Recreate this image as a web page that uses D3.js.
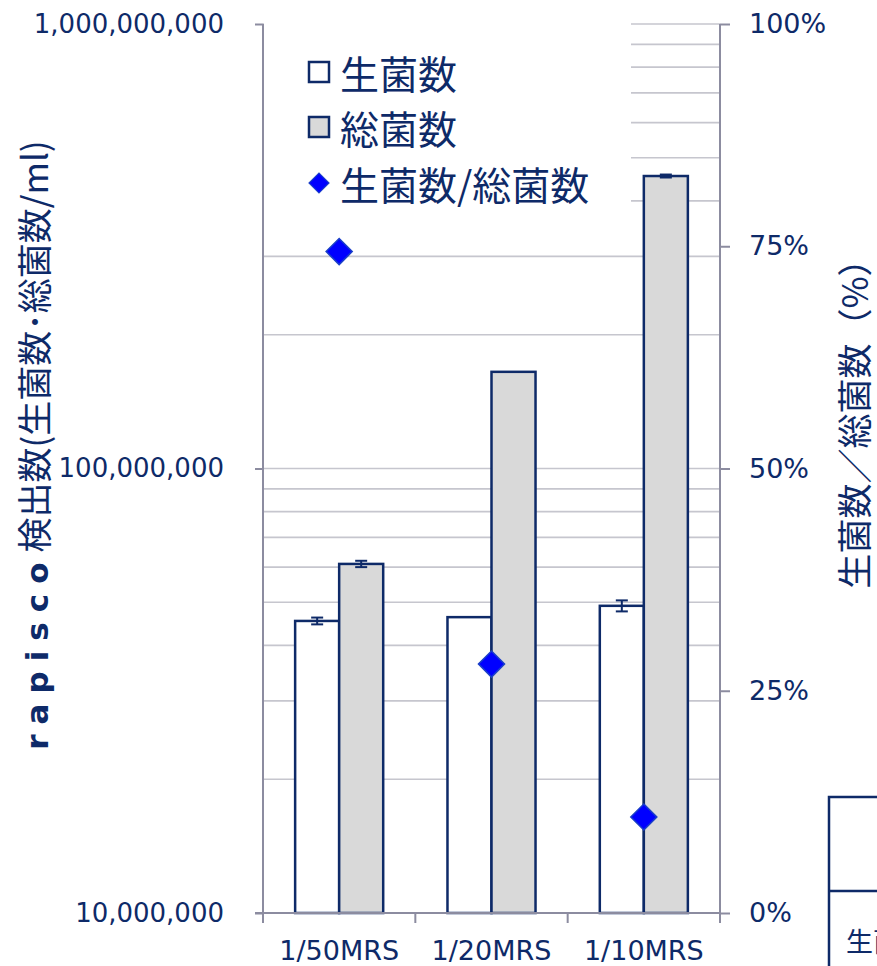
<!DOCTYPE html>
<html>
<head>
<meta charset="utf-8">
<script src="https://cdn.jsdelivr.net/npm/d3@7/dist/d3.min.js"></script>
<style>
	body { margin: 0; background: #fff; overflow: hidden; }
	svg { display: block; }
</style>
</head>
<body>
<div id="chart"></div>
<script>
// values
const categories = ["1/50MRS", "1/20MRS", "1/10MRS"];
const viableCounts = [4.54e7, 4.63e7, 4.91e7];   // 生菌数
const viableErr = [0.08e7, 0, 0.14e7];
const totalCounts = [6.1e7, 1.65e8, 4.55e8];     // 総菌数
const totalErr = [0.1e7, 0, 0.035e8];
const ratioPct = [74.4, 28.0, 10.8];             // 生菌数/総菌数 (%)
const leftTickValues = [1e7, 1e8, 1e9];
const rightTickValues = [0, 25, 50, 75, 100];
const seriesNames = ["生菌数", "総菌数", "生菌数/総菌数"];

const W = 877, H = 966;
const navy = "#0e2a68";
const axisGrey = "#8c8ca0";
const gridGrey = "#c6c6ce";
const latin = "'DejaVu Sans', 'Noto Sans CJK JP', sans-serif";
const cjk = "'Noto Sans CJK JP', 'DejaVu Sans', sans-serif";

const plot = {left: 263, right: 720, top: 24, bottom: 913};

let svg = d3.select("#chart").append("svg")
	.attr("width", W)
	.attr("height", H);

let x = d3.scaleBand()
	.domain(categories)
	.range([plot.left, plot.right]);

let xInner = d3.scaleBand()
	.domain(["viable", "total"])
	.range([0, x.bandwidth()])
	.paddingOuter(0.73);

let yLog = d3.scaleLog()
	.domain([1e7, 1e9])
	.range([plot.bottom, plot.top]);

let yPct = d3.scaleLinear()
	.domain([0, 100])
	.range([plot.bottom, plot.top]);

// gridlines at every log tick
svg.append("g")
	.selectAll("line")
	.data(yLog.ticks().filter(d => d > 1e7))
	.join("line")
	.attr("x1", plot.left)
	.attr("x2", plot.right)
	.attr("y1", d => yLog(d))
	.attr("y2", d => yLog(d))
	.attr("stroke", gridGrey)
	.attr("stroke-width", 1.6);

// legend background hides the grid behind it
svg.append("rect")
	.attr("x", plot.left + 1)
	.attr("y", plot.top - 2)
	.attr("width", 630 - plot.left)
	.attr("height", 196)
	.attr("fill", "#fff");

// bars
let bars = [
	{key: "viable", values: viableCounts, err: viableErr, fill: "#ffffff"},
	{key: "total", values: totalCounts, err: totalErr, fill: "#d9d9d9"}
];

bars.forEach(s => {
	let g = svg.append("g");
	g.selectAll("rect")
		.data(s.values)
		.join("rect")
		.attr("x", (d, i) => x(categories[i]) + xInner(s.key))
		.attr("y", d => yLog(d))
		.attr("width", xInner.bandwidth())
		.attr("height", d => plot.bottom - yLog(d))
		.attr("fill", s.fill)
		.attr("stroke", navy)
		.attr("stroke-width", 2.5);

	// error bars
	let eg = g.append("g").attr("stroke", navy).attr("stroke-width", 2);
	s.values.forEach((v, i) => {
		if (!s.err[i]) return;
		let cx = x(categories[i]) + xInner(s.key) + xInner.bandwidth() / 2;
		let y0 = yLog(v + s.err[i]), y1 = yLog(v - s.err[i]);
		eg.append("line").attr("x1", cx).attr("x2", cx).attr("y1", y0).attr("y2", y1);
		eg.append("line").attr("x1", cx - 6).attr("x2", cx + 6).attr("y1", y0).attr("y2", y0);
		eg.append("line").attr("x1", cx - 6).attr("x2", cx + 6).attr("y1", y1).attr("y2", y1);
	});
});

// ratio diamonds
let diamond = d3.symbol().type(d3.symbolSquare).size(340);
svg.append("g")
	.selectAll("path")
	.data(ratioPct)
	.join("path")
	.attr("d", diamond)
	.attr("transform", (d, i) => `translate(${x(categories[i]) + x.bandwidth() / 2},${yPct(d)}) rotate(45)`)
	.attr("fill", "#0000ff")
	.attr("stroke", "#1a3fc8")
	.attr("stroke-width", 1.5);

// left axis
let leftAxis = d3.axisLeft(yLog)
	.tickValues(leftTickValues)
	.tickFormat(d3.format(","))
	.tickSize(8)
	.tickPadding(31);
let gl = svg.append("g")
	.attr("transform", `translate(${plot.left},0)`)
	.call(leftAxis);

// right axis
let rightAxis = d3.axisRight(yPct)
	.tickValues(rightTickValues)
	.tickFormat(d => d + "%")
	.tickSize(10)
	.tickPadding(19);
let gr = svg.append("g")
	.attr("transform", `translate(${plot.right},0)`)
	.call(rightAxis);

// bottom axis
let bottomAxis = d3.axisBottom(x)
	.tickSize(0)
	.tickPadding(28);
let gb = svg.append("g")
	.attr("transform", `translate(0,${plot.bottom})`)
	.call(bottomAxis);

// category separators
svg.append("g")
	.selectAll("line")
	.data(categories.concat(["end"]))
	.join("line")
	.attr("x1", (d, i) => i < categories.length ? x(d) : plot.right)
	.attr("x2", (d, i) => i < categories.length ? x(d) : plot.right)
	.attr("y1", plot.bottom)
	.attr("y2", plot.bottom + 10)
	.attr("stroke", axisGrey)
	.attr("stroke-width", 2);

[gl, gr, gb].forEach(g => {
	g.select(".domain").attr("stroke", axisGrey).attr("stroke-width", 2);
	g.selectAll(".tick line").attr("stroke", axisGrey).attr("stroke-width", 2);
	g.selectAll(".tick text")
		.attr("fill", navy)
		.style("font-family", latin)
		.style("font-size", "27px");
});
gl.selectAll(".tick text").style("font-size", "26px");
gl.select(".domain").attr("d", `M0,${plot.top}V${plot.bottom}`);
gr.select(".domain").attr("d", `M0,${plot.top}V${plot.bottom}`);
gb.select(".domain").attr("d", `M${plot.left - 8},0H${plot.right}`);
gb.selectAll(".tick text").attr("dy", "0.71em");

// legend
let legend = svg.append("g");
let rowY = [72, 127, 183];
seriesNames.forEach((name, i) => {
	if (i < 2) {
		legend.append("rect")
			.attr("x", 309).attr("y", rowY[i] - 10)
			.attr("width", 20).attr("height", 20)
			.attr("fill", i === 0 ? "#fff" : "#d9d9d9")
			.attr("stroke", navy).attr("stroke-width", 2.5);
	} else {
		legend.append("path")
			.attr("d", d3.symbol().type(d3.symbolSquare).size(200))
			.attr("transform", `translate(319,${rowY[i]}) rotate(45)`)
			.attr("fill", "#0000ff")
			.attr("stroke", "#1a3fc8")
			.attr("stroke-width", 1.2);
	}
	legend.append("text")
		.text(name)
		.attr("x", 340)
		.attr("y", rowY[i])
		.attr("dominant-baseline", "central")
		.attr("fill", navy)
		.style("font-family", cjk)
		.style("font-size", "39px");
});

// left axis title
let lt = svg.append("text")
	.attr("transform", "translate(48,445) rotate(-90)")
	.attr("text-anchor", "middle")
	.attr("fill", navy)
	.style("font-family", cjk)
	.style("font-size", "35px");
lt.append("tspan")
	.text("rapisco")
	.style("font-family", latin)
	.style("font-weight", "900")
	.style("font-size", "31px")
	.style("letter-spacing", "10px");
lt.append("tspan").text("検出数(生菌数･総菌数/ml)");

// right axis title
svg.append("text")
	.attr("transform", "translate(868,415) rotate(-90)")
	.attr("text-anchor", "middle")
	.attr("fill", navy)
	.style("font-family", cjk)
	.style("font-size", "35px")
	.text("生菌数／総菌数（%）");

// data table edge, cut off by the window
let table = svg.append("g");
table.append("rect")
	.attr("x", 829).attr("y", 797)
	.attr("width", 120).attr("height", 220)
	.attr("fill", "#fff")
	.attr("stroke", navy).attr("stroke-width", 2.5);
table.append("line")
	.attr("x1", 829).attr("x2", W)
	.attr("y1", 891).attr("y2", 891)
	.attr("stroke", navy).attr("stroke-width", 2.5);
table.append("text")
	.text(seriesNames[0])
	.attr("x", 846).attr("y", 952)
	.attr("fill", navy)
	.style("font-family", cjk)
	.style("font-size", "27px");
</script>
</body>
</html>
